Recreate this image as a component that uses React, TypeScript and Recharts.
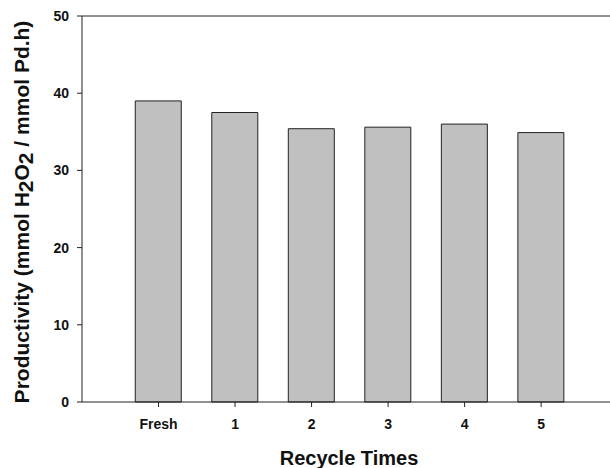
import { BarChart, Bar, XAxis, YAxis, ReferenceLine } from 'recharts';

// Productivity of the catalyst over recycle runs
const categories = ['Fresh', '1', '2', '3', '4', '5'];
const productivity = [39.0, 37.5, 35.4, 35.6, 36.0, 34.9];
const yTicks = [0, 10, 20, 30, 40, 50];

const data = categories.map((name, i) => ({ pos: i + 1, name, value: productivity[i] }));

const FONT = '"Liberation Sans", Arial, Helvetica, sans-serif';
const AXIS = '#222';

const YTitle = (props: any) => {
  const vb = props.viewBox || { x: 0, y: 16, width: 82, height: 386 };
  const cx = 29;
  const cy = vb.y + vb.height / 2 + 3;
  return (
    <text
      x={cx}
      y={cy}
      transform={`rotate(-90, ${cx}, ${cy})`}
      textAnchor="middle"
      fontFamily={FONT}
      fontWeight="bold"
      fontSize={21}
      fill="#111"
    >
      Productivity (mmol H<tspan dy={4}>2</tspan>
      <tspan dy={-4}>O</tspan>
      <tspan dy={4}>2</tspan>
      <tspan dy={-4}> / mmol Pd.h)</tspan>
    </text>
  );
};

const XTitle = (props: any) => {
  const vb = props.viewBox || { x: 82, y: 402, width: 528, height: 66 };
  return (
    <text
      x={vb.x + vb.width / 2 + 3}
      y={vb.y + 63}
      textAnchor="middle"
      fontFamily={FONT}
      fontWeight="bold"
      fontSize={20}
      fill="#111"
    >
      Recycle Times
    </text>
  );
};

const App = () => {
  return (
    <div style={{ position: 'absolute', left: 0, top: 0, width: 610, height: 468, background: '#fff' }}>
      <BarChart width={610} height={468} data={data} margin={{ top: 16, right: 0, left: 0, bottom: 0 }}>
        <XAxis
          dataKey="pos"
          type="number"
          domain={[0, 6.9]}
          ticks={[1, 2, 3, 4, 5, 6]}
          tickFormatter={(v: number) => categories[v - 1]}
          height={66}
          stroke={AXIS}
          tickSize={5}
          tickMargin={12}
          tick={{ fontFamily: FONT, fontWeight: 'bold', fontSize: 14, fill: '#111' }}
          allowDataOverflow
          label={<XTitle />}
        />
        <YAxis
          domain={[0, 50]}
          ticks={yTicks}
          width={82}
          stroke={AXIS}
          tickSize={5}
          tickMargin={8}
          tick={{ fontFamily: FONT, fontWeight: 'bold', fontSize: 14, fill: '#111' }}
          label={<YTitle />}
        />
        <ReferenceLine y={50} stroke={AXIS} strokeWidth={1} />
        <Bar dataKey="value" fill="#c0c0c0" stroke="#222" strokeWidth={1} barSize={46} isAnimationActive={false} />
      </BarChart>
    </div>
  );
};

export default App;
